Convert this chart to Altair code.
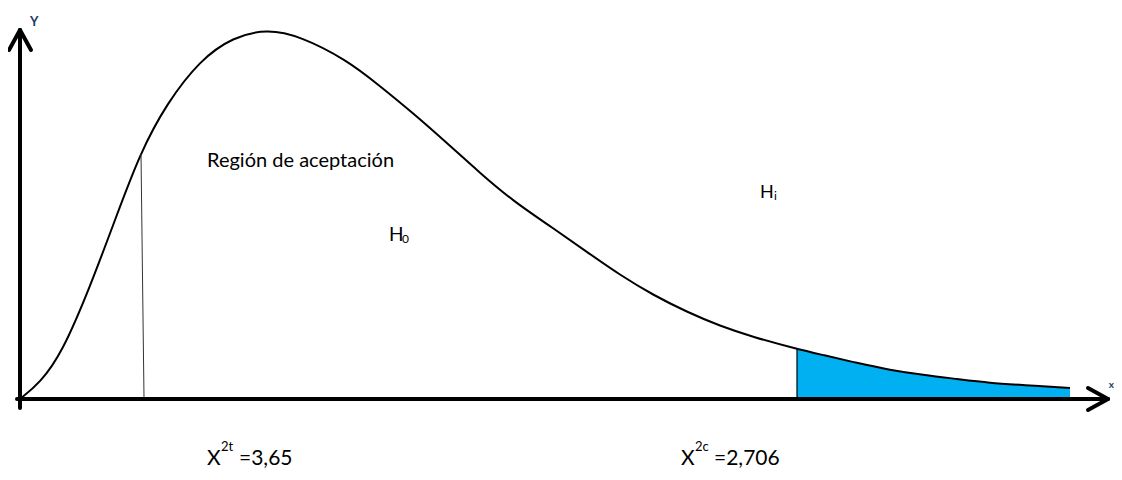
import altair as alt
import pandas as pd

# Curve (x: distance from the Y axis, y: height above the X axis)
curve_x = [0, 20, 42, 70, 95, 120, 147, 180, 213, 247, 280, 327, 360, 393, 427, 460,
           493, 533, 567, 600, 633, 667, 700, 733, 777, 803, 837, 870, 903, 937, 970, 1003, 1050]
curve_y = [1, 17, 47, 113, 180, 247, 297, 340, 363, 371, 364, 340, 314, 287, 257, 227,
           199, 172, 148, 125, 105, 88, 74, 63, 51, 45, 37, 30, 25, 21, 17, 15, 12]

cut_x = 777          # start of the rejection (shaded) tail
crit_x = [121, 124]  # thin vertical line (top, bottom)
crit_y = [246, 2]

curve = pd.DataFrame({"x": curve_x, "y": curve_y})
tail = curve[curve["x"] >= cut_x].copy()
tail["base"] = 2

X = alt.X("x:Q", scale=alt.Scale(domain=[-12, 1094], nice=False, zero=False), axis=None)
Y = alt.Y("y:Q", scale=alt.Scale(domain=[-72, 392], nice=False, zero=False), axis=None)

area = alt.Chart(tail).mark_area(color="#00B0F0", interpolate="basis").encode(
    x=X, y=Y, y2="base:Q")

line = alt.Chart(curve).mark_line(color="black", strokeWidth=2, interpolate="basis").encode(
    x=X, y=Y)

edge = alt.Chart(pd.DataFrame({"x": [cut_x], "y": [2], "y2": [tail["y"].iloc[0]]})).mark_rule(
    color="black", strokeWidth=1.2).encode(x=X, y=Y, y2="y2:Q")

crit = alt.Chart(pd.DataFrame({"x": [crit_x[0]], "y": [crit_y[0]], "x2": [crit_x[1]], "y2": [crit_y[1]]})
                 ).mark_rule(color="#333333", strokeWidth=1).encode(x=X, y=Y, x2="x2:Q", y2="y2:Q")

# Axes with arrow heads
axes_df = pd.DataFrame({
    "x":  [0, 0, 0, -3, 1088, 1088],
    "y":  [-8, 370, 370, 1, 1, 1],
    "x2": [0, -11, 11, 1088, 1068, 1068],
    "y2": [370, 350, 350, 1, 12, -10],
})
axes = alt.Chart(axes_df).mark_rule(color="black", strokeWidth=4, strokeCap="round").encode(
    x=X, y=Y, x2="x2:Q", y2="y2:Q")

FONT = "Lato"

def txt(text, x, y, size, color="black", weight="normal", align="left"):
    return alt.Chart(pd.DataFrame({"x": [x], "y": [y], "t": [text]})).mark_text(
        font=FONT, fontSize=size, color=color, fontWeight=weight, align=align,
        baseline="alphabetic").encode(x=X, y=Y, text="t:N")

labels = [
    txt("Y", 10, 374, 13, color="#1F3864", weight="bold"),
    txt("x", 1094, 12, 10, color="#1F3864", weight="bold", align="right"),
    txt("Región de aceptación", 187, 233, 20),
    txt("H", 369, 159, 19),
    txt("0", 382, 157, 12),
    txt("H", 740, 202, 18),
    txt("i", 754, 200, 12),
    txt("X", 187, -65, 21),
    txt("2t", 201, -51, 13),
    txt("=3,65", 219, -65, 21),
    txt("X", 661, -65, 21),
    txt("2c", 675, -51, 13),
    txt("=2,706", 694, -65, 21),
]

chart = alt.layer(area, line, edge, crit, axes, *labels).properties(
    width=1106, height=464, padding=0, autosize="none"
).configure_view(stroke=None)

chart.save("out.html", embed_options={"renderer": "svg", "actions": False})
